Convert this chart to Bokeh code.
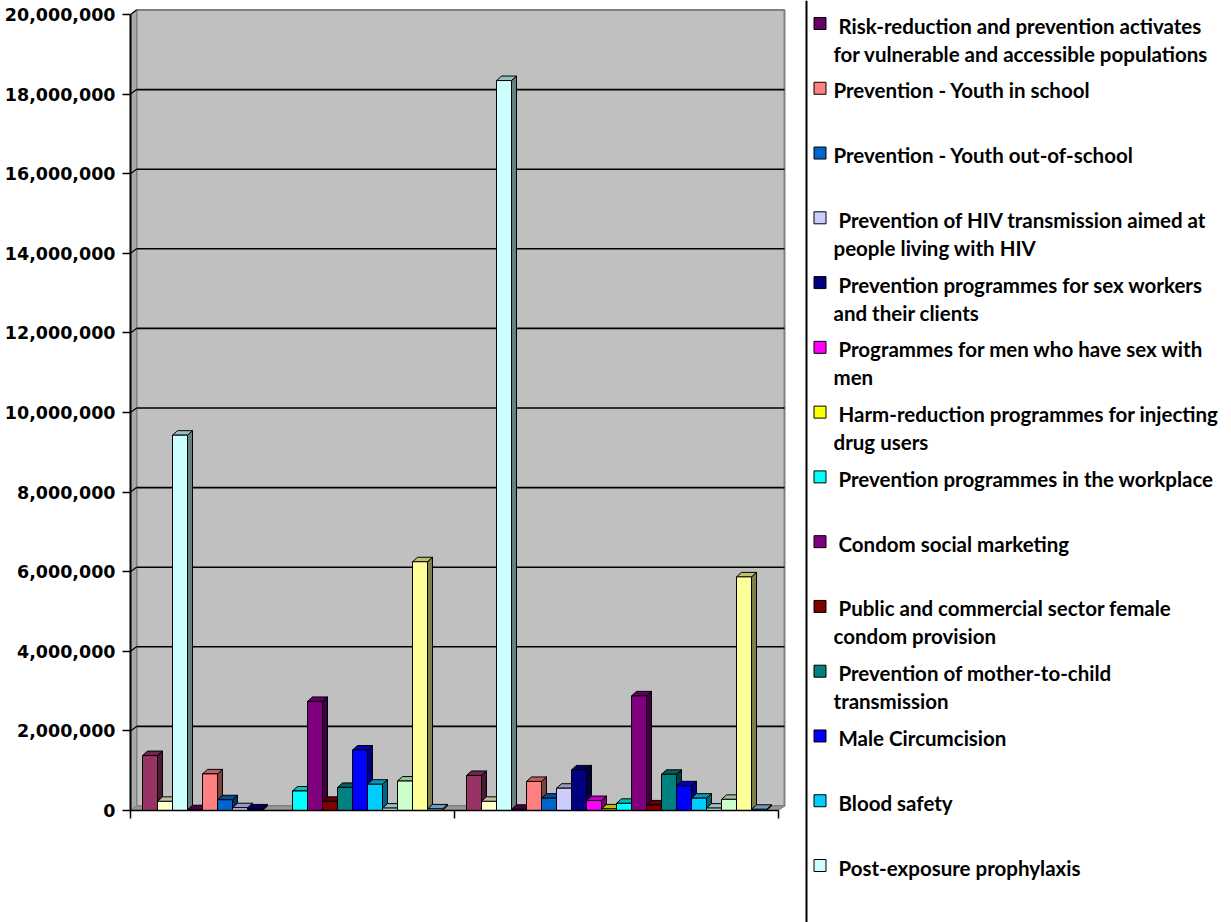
from bokeh.plotting import figure
from bokeh.layouts import row
from bokeh.models import Range1d, NumeralTickFormatter, FixedTicker
from bokeh.core.properties import value
from bokeh.embed import file_html
from bokeh.resources import INLINE

# ---- data -------------------------------------------------------------
SERIES_COLORS = [
    "#993366", "#FFFFCC", "#CCFFFF", "#660066", "#FF8080", "#0066CC",
    "#CCCCFF", "#000080", "#FF00FF", "#FFFF00", "#00FFFF", "#800080",
    "#800000", "#008080", "#0000FF", "#00CCFF", "#CCFFFF", "#CCFFCC",
    "#FFFF99", "#99CCFF",
]
SERIES_NAMES = [
    "", "", "",
    " Risk-reduction and prevention activates\nfor vulnerable and accessible populations",
    "Prevention - Youth in school",
    "Prevention - Youth out-of-school",
    " Prevention of HIV transmission aimed at\npeople living with HIV",
    " Prevention programmes for sex workers\nand their clients",
    " Programmes for men who have sex with\nmen",
    " Harm-reduction programmes for injecting\ndrug users",
    " Prevention programmes in the workplace",
    " Condom social marketing",
    " Public and commercial sector female\ncondom provision",
    " Prevention of mother-to-child\ntransmission",
    " Male Circumcision",
    " Blood safety",
    " Post-exposure prophylaxis",
    "", "", "",
]
GROUP_1 = [1_380_000, 230_000, 9_430_000, 20_000, 920_000, 270_000, 70_000,
           40_000, 0, 0, 490_000, 2_740_000, 230_000, 580_000, 1_520_000,
           660_000, 60_000, 740_000, 6_250_000, 40_000]
GROUP_2 = [880_000, 230_000, 18_340_000, 30_000, 730_000, 310_000, 560_000,
           1_020_000, 250_000, 40_000, 180_000, 2_880_000, 140_000, 910_000,
           620_000, 310_000, 60_000, 280_000, 5_870_000, 30_000]
GROUPS = [GROUP_1, GROUP_2]
Y_TICKS = [0, 2_000_000, 4_000_000, 6_000_000, 8_000_000, 10_000_000,
           12_000_000, 14_000_000, 16_000_000, 18_000_000, 20_000_000]
LEGEND_FIRST = 3      # first series row visible in the legend panel
LEGEND_ROWS = 15

# ---- geometry ---------------------------------------------------------
W_MAIN, W_LEG, H = 800, 431, 922
LEFT, TOP, BOTTOM = 130, 4, 112
GROUP_PX = 324.0                 # pixels per category
PX_PER_VALUE = 39.8 / 1_000_000  # pixels per unit of value
frame_w = W_MAIN - LEFT
frame_h = H - TOP - BOTTOM
x_end = frame_w / GROUP_PX
y_end = frame_h / PX_PER_VALUE
sx = 1.0 / GROUP_PX
sy = 1.0 / PX_PER_VALUE
wall_dx, wall_dy = 6 * sx, 4.5 * sy
bar_dx, bar_dy = 5 * sx, 4.5 * sy
n_series = len(SERIES_COLORS)
bar_w = 15 * sx
margin = (1 - n_series * bar_w) / 2
y_top = Y_TICKS[-1]
n_groups = len(GROUPS)


def shade(hex_color, f):
    h = hex_color.lstrip("#")
    r, g, b = (int(h[i:i + 2], 16) for i in (0, 2, 4))
    return "#%02x%02x%02x" % (int(r * f), int(g * f), int(b * f))


p = figure(width=W_MAIN, height=H, x_range=Range1d(0, x_end),
           y_range=Range1d(0, y_end), output_backend="svg",
           toolbar_location=None, min_border_left=LEFT, min_border_right=0,
           min_border_top=TOP, min_border_bottom=BOTTOM,
           background_fill_color="white", border_fill_color="white",
           outline_line_color=None)
p.frame_align = False
p.xgrid.visible = False
p.ygrid.visible = False

# walls and floor
p.quad(left=wall_dx, right=n_groups + wall_dx, bottom=wall_dy,
       top=y_top + wall_dy, fill_color="#C0C0C0", line_color="#808080",
       line_width=2)
p.patch([0, 0, wall_dx, wall_dx], [0, y_top, y_top + wall_dy, wall_dy],
        fill_color="#A8A8A8", line_color="#808080", line_width=1)
p.patch([0, n_groups, n_groups + wall_dx, wall_dx], [0, 0, wall_dy, wall_dy],
        fill_color="#969696", line_color="#808080", line_width=1)

# gridlines on the back wall plus their stubs on the side wall
grid_vals = Y_TICKS[1:-1]
p.segment(x0=[wall_dx] * len(grid_vals), y0=[v + wall_dy for v in grid_vals],
          x1=[n_groups + wall_dx] * len(grid_vals),
          y1=[v + wall_dy for v in grid_vals], line_color="#000000",
          line_width=1.6)
stub_vals = Y_TICKS[1:]
p.segment(x0=[0] * len(stub_vals), y0=stub_vals,
          x1=[wall_dx] * len(stub_vals), y1=[v + wall_dy for v in stub_vals],
          line_color="#000000", line_width=1.2)

# 3-D columns: side, top and front faces, painted left to right
xs, ys, fills = [], [], []
for g, vals in enumerate(GROUPS):
    for j, v in enumerate(vals):
        if v <= 0:
            continue
        L = g + margin + j * bar_w
        R = L + bar_w
        c = SERIES_COLORS[j]
        xs.append([R, R + bar_dx, R + bar_dx, R])
        ys.append([0, bar_dy, v + bar_dy, v])
        fills.append(shade(c, 0.5))
        xs.append([L, R, R + bar_dx, L + bar_dx])
        ys.append([v, v, v + bar_dy, v + bar_dy])
        fills.append(shade(c, 0.75))
        xs.append([L, R, R, L])
        ys.append([0, 0, v, v])
        fills.append(c)
p.patches(xs, ys, fill_color=fills, line_color="black", line_width=1)

# axes
ya = p.yaxis[0]
ya.ticker = FixedTicker(ticks=Y_TICKS)
ya.formatter = NumeralTickFormatter(format="0,0")
ya.bounds = (0, y_top)
ya.major_label_text_font = "DejaVu Sans"
ya.major_label_text_font_style = "bold"
ya.major_label_text_font_size = "17.5px"
ya.major_label_text_color = "black"
ya.major_tick_out = 8
ya.major_tick_in = 0
ya.minor_tick_out = 0
ya.minor_tick_in = 0
ya.major_label_standoff = 7
ya.axis_line_width = 2
ya.major_tick_line_width = 1.5

xa = p.xaxis[0]
xa.ticker = FixedTicker(ticks=list(range(n_groups + 1)))
xa.bounds = (0, n_groups)
xa.major_label_text_color = None
xa.major_label_text_font_size = "1px"
xa.major_tick_out = 8
xa.major_tick_in = 0
xa.minor_tick_out = 0
xa.minor_tick_in = 0
xa.axis_line_width = 1.5
xa.major_tick_line_width = 1.5

# ---- legend panel -----------------------------------------------------
q = figure(width=W_LEG, height=H, x_range=Range1d(0, W_LEG),
           y_range=Range1d(H, 0), output_backend="svg",
           toolbar_location=None, min_border=0, outline_line_color=None,
           background_fill_color="white", border_fill_color="white")
q.frame_align = False
q.axis.visible = False
q.grid.visible = False

ROW_START, ROW_STEP, LINE_STEP = 23, 64.77, 28
q.segment(x0=[6], y0=[0], x1=[6], y1=[H], line_color="black", line_width=2)

mk_y, mk_c = [], []
tx, ty, tt = [], [], []
for k in range(LEGEND_ROWS):
    s = LEGEND_FIRST + k
    yc = ROW_START + ROW_STEP * k
    mk_y.append(yc)
    mk_c.append(SERIES_COLORS[s])
    name = SERIES_NAMES[s]
    if not name:
        continue
    indent = 5 if name.startswith(" ") else 0
    for li, line in enumerate(name.strip().split("\n")):
        tx.append(33 + (indent if li == 0 else 0))
        ty.append(yc + 2 + LINE_STEP * li)
        tt.append(line)

q.rect(x=[19.5] * len(mk_y), y=mk_y, width=12, height=12, fill_color=mk_c,
       line_color="black", line_width=1)
q.text(x=tx, y=ty, text=tt, text_font=value("Lato"), text_font_style="bold",
       text_font_size="20.5px", text_baseline="middle", text_align="left",
       text_color="black")

layout = row(p, q, spacing=0)
open("out.html", "w").write(file_html(layout, INLINE))
